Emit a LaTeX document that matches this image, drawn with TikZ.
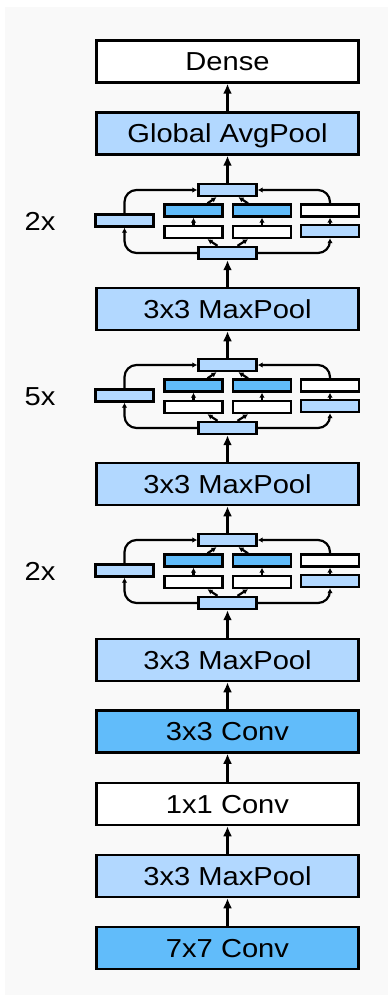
\documentclass[tikz,border=0pt]{standalone}
\usepackage{fontspec}
\setmainfont{Liberation Sans}[FakeStretch=1.12]
\usetikzlibrary{arrows.meta}
\definecolor{lb}{RGB}{178,216,255}
\definecolor{db}{RGB}{97,188,250}
\definecolor{bg}{RGB}{249,249,249}
\newcommand{\incblock}[3]{%
\begin{scope}[yshift=-#2pt]
\node[sbox,fill=lb] (#1T) at (227.5,190) {};
\node[sbox,fill=db] (#1A1) at (193.5,210.5) {};
\node[sbox,fill=db] (#1B1) at (262,210.5) {};
\node[sbox,fill=white] (#1C1) at (330,210.5) {};
\node[sbox,fill=white] (#1A2) at (193.5,232) {};
\node[sbox,fill=white] (#1B2) at (262,232) {};
\node[sbox,fill=lb] (#1C2) at (330,231) {};
\node[sbox,fill=lb] (#1L) at (124.5,220.5) {};
\node[sbox,fill=lb] (#1Bot) at (227.5,253) {};
\node[lbl] (#1lab) at (40,221) {#3};
\end{scope}
\draw[sarr,rounded corners=12pt] (#1Bot.west) -| (#1L.south);
\draw[sarr,rounded corners=12pt] (#1L.north) |- (#1T.west);
\draw[sarr,rounded corners=12pt] (#1Bot.east) -| (#1C2.south);
\draw[sarr] (#1C2.north) -- (#1C1.south);
\draw[sarr,rounded corners=12pt] (#1C1.north) |- (#1T.east);
\draw[sarr] (#1A2.north) -- (#1A1.south);
\draw[sarr] (#1B2.north) -- (#1B1.south);
\draw[sarr] ([xshift=14pt]#1A1.north) -- ([xshift=-11pt]#1T.south);
\draw[sarr] ([xshift=-14pt]#1B1.north) -- ([xshift=11pt]#1T.south);
\draw[sarr] ([xshift=-10pt]#1Bot.north) -- ([xshift=14pt]#1A2.south);
\draw[sarr] ([xshift=10pt]#1Bot.north) -- ([xshift=-14pt]#1B2.south);
}
\begin{document}
\begin{tikzpicture}[x=1pt,y=-1pt,
  mbox/.style={draw, line width=2.5pt, minimum width=262pt, minimum height=42pt,
    inner sep=0pt, text height=18.7pt, text depth=0pt, font=\fontsize{26}{30}\selectfont},
  sbox/.style={draw, line width=2.4pt, minimum width=58pt, minimum height=12pt, inner sep=0pt},
  marr/.style={line width=2.5pt, -{Latex[length=10pt,width=9pt]}},
  sarr/.style={line width=2.2pt, -{Latex[length=5pt,width=5.5pt]}},
  lbl/.style={inner sep=0pt, text height=18.7pt, text depth=0pt, font=\fontsize{26}{30}\selectfont}]
\fill[white] (0,0) rectangle (388,995);
\fill[bg] (5,7) rectangle (388,995);
\useasboundingbox (0,0) rectangle (388,995);

\node[mbox,fill=white] (dense) at (227.5,61.5) {Dense};
\node[mbox,fill=lb] (gap) at (227.5,133.5) {Global AvgPool};
\node[mbox,fill=lb] (mpa) at (227.5,309) {3x3 MaxPool};
\node[mbox,fill=lb] (mpb) at (227.5,484) {3x3 MaxPool};
\node[mbox,fill=lb] (mpc) at (227.5,660) {3x3 MaxPool};
\node[mbox,fill=db] (conv3) at (227.5,731.5) {3x3 Conv};
\node[mbox,fill=white] (conv1) at (227.5,804) {1x1 Conv};
\node[mbox,fill=lb] (mpd) at (227.5,876) {3x3 MaxPool};
\node[mbox,fill=db] (conv7) at (227.5,948) {7x7 Conv};

\incblock{ba}{0}{2x}
\incblock{bb}{175}{5x}
\incblock{bc}{350}{2x}

\draw[marr] (conv7.north) -- (mpd.south);
\draw[marr] (mpd.north) -- (conv1.south);
\draw[marr] (conv1.north) -- (conv3.south);
\draw[marr] (conv3.north) -- (mpc.south);
\draw[marr] (mpc.north) -- (bcBot.south);
\draw[marr] (bcT.north) -- (mpb.south);
\draw[marr] (mpb.north) -- (bbBot.south);
\draw[marr] (bbT.north) -- (mpa.south);
\draw[marr] (mpa.north) -- (baBot.south);
\draw[marr] (baT.north) -- (gap.south);
\draw[marr] (gap.north) -- (dense.south);
\end{tikzpicture}
\end{document}
